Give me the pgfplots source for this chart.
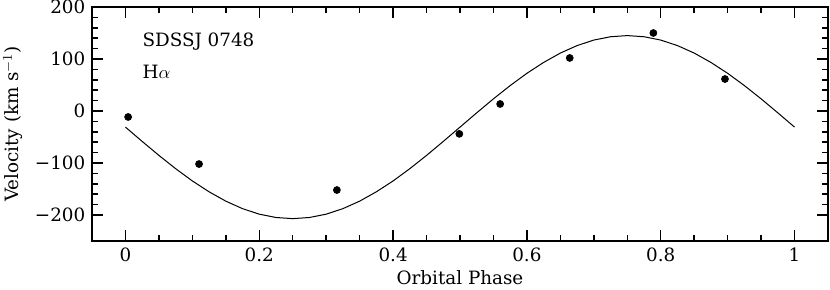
\documentclass[border=0pt]{standalone}
\usepackage{pgfplots}
\pgfplotsset{compat=1.18}
\usepackage{fontspec}
\setmainfont{DejaVu Serif}
\begin{document}
\begin{tikzpicture}
\begin{axis}[
  scale only axis,
  width=441.6pt, height=140.4pt,
  xmin=-0.05, xmax=1.05, ymin=-250, ymax=200,
  xtick={0,0.2,0.4,0.6,0.8,1},
  xticklabels={0,0.2,0.4,0.6,0.8,1},
  ytick={-200,-100,0,100,200},
  yticklabels={\char"2212 200,\char"2212 100,0,100,200},
  minor x tick num=3, minor y tick num=4,
  tick align=inside,
  major tick length=6.6pt, minor tick length=3.6pt,
  every tick/.style={line width=0.9pt, black},
  axis line style={line width=1.2pt},
  tick label style={font=\fontsize{11}{13}\selectfont},
  xticklabel style={yshift=-0.5pt},
  yticklabel style={xshift=-0.5pt},
  xlabel={Orbital Phase},
  ylabel={Velocity (km s$^{-1}$)},
  label style={font=\fontsize{11}{13}\selectfont, inner sep=1pt},
  xlabel style={at={(axis description cs:0.5,-0.158)}, anchor=center},
  ylabel style={at={(axis description cs:-0.1074,0.5)}, anchor=center},
  clip=false,
]
\addplot[black, line width=0.6pt] coordinates {
(0,-31) (0.025,-58.5) (0.05,-85.4) (0.075,-110.9) (0.1,-134.5) (0.125,-155.4)
(0.15,-173.4) (0.175,-187.8) (0.2,-198.4) (0.225,-204.8) (0.25,-207)
(0.275,-204.8) (0.3,-198.4) (0.325,-187.8) (0.35,-173.4) (0.375,-155.4)
(0.4,-134.5) (0.425,-110.9) (0.45,-85.4) (0.475,-58.5) (0.5,-31)
(0.525,-3.5) (0.55,23.4) (0.575,48.9) (0.6,72.5) (0.625,93.4)
(0.65,111.4) (0.675,125.8) (0.7,136.4) (0.725,142.8) (0.75,145)
(0.775,142.8) (0.8,136.4) (0.825,125.8) (0.85,111.4) (0.875,93.4)
(0.9,72.5) (0.925,48.9) (0.95,23.4) (0.975,-3.5) (1.0,-31)
};
\addplot[only marks, mark=*, mark size=2.1pt, black] coordinates {
(0.004,-11.5) (0.110,-102) (0.316,-152) (0.499,-44) (0.560,13.5)
(0.664,102) (0.789,150) (0.896,61.5)
};
\node[anchor=west, inner sep=0pt, font=\fontsize{11}{13}\selectfont] at (axis cs:0.025,133) {SDSSJ 0748};
\node[anchor=west, inner sep=0pt, font=\fontsize{11}{13}\selectfont] at (axis cs:0.025,75) {H$\alpha$};
\coordinate (SW) at (rel axis cs:0,0);
\coordinate (NE) at (rel axis cs:1,1);
\end{axis}
\pgfresetboundingbox
\path[use as bounding box] ([xshift=-55.2pt,yshift=-29pt]SW) rectangle ([xshift=1.2pt,yshift=4.2pt]NE);
\end{tikzpicture}
\end{document}
